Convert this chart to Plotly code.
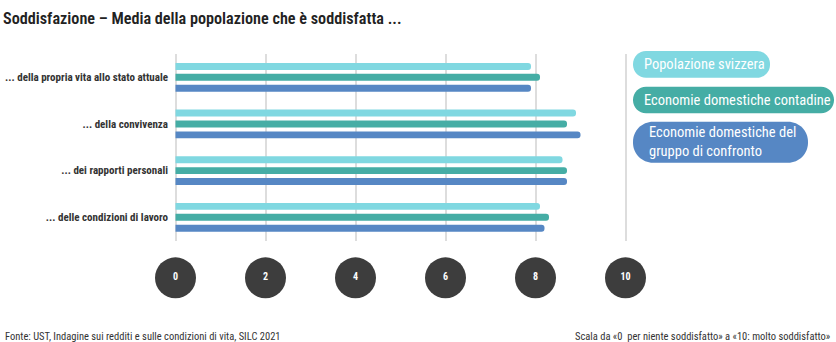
import plotly.graph_objects as go

# ---------------- data ----------------
categories = [
    "... della propria vita allo stato attuale",
    "... della convivenza",
    "... dei rapporti personali",
    "... delle condizioni di lavoro",
]
series_names = [
    "Popolazione svizzera",
    "Economie domestiche contadine",
    "Economie domestiche del<br>gruppo di confronto",
]
val_svizzera = [7.9, 8.9, 8.6, 8.1]
val_contadine = [8.1, 8.7, 8.7, 8.3]
val_confronto = [7.9, 9.0, 8.7, 8.2]
tick_values = [0, 2, 4, 6, 8, 10]
tick_labels = ["0", "2", "4", "6", "8", "10"]

title_text = "Soddisfazione – Media della popolazione che è soddisfatta ..."
source_text = "Fonte: UST, Indagine sui redditi e sulle condizioni di vita, SILC 2021"
scale_text = "Scala da «0  per niente soddisfatto» a «10: molto soddisfatto»"

# ---------------- style ----------------
colors = ["#80d8e1", "#45ada5", "#5687c4"]
FONT = "Liberation Sans Narrow, Roboto Condensed, Roboto, sans-serif"
W, H = 836, 342
L, R, T, B = 171, 206, 54, 42
PW = W - L - R
PH = H - T - B


def px2paper(px, py):
    return (px - L) / PW, (H - B - py) / PH


def pill_path(x0, y0, x1, y1, r):
    k = 0.5523 * r

    def p(x, y):
        a, b = px2paper(x, y)
        return f"{a:.5f},{b:.5f}"

    d = f"M {p(x0 + r, y0)} L {p(x1 - r, y0)} "
    d += f"C {p(x1 - r + k, y0)} {p(x1, y0 + r - k)} {p(x1, y0 + r)} "
    d += f"L {p(x1, y1 - r)} "
    d += f"C {p(x1, y1 - r + k)} {p(x1 - r + k, y1)} {p(x1 - r, y1)} "
    d += f"L {p(x0 + r, y1)} "
    d += f"C {p(x0 + r - k, y1)} {p(x0, y1 - r + k)} {p(x0, y1 - r)} "
    d += f"L {p(x0, y0 + r)} "
    d += f"C {p(x0, y0 + r - k)} {p(x0 + r - k, y0)} {p(x0 + r, y0)} Z"
    return d


fig = go.Figure()
for name, vals, col in zip(series_names, [val_svizzera, val_contadine, val_confronto], colors):
    fig.add_trace(go.Bar(
        x=vals, y=categories, orientation="h", name=name,
        marker=dict(color=col, cornerradius="50%", line=dict(width=0)),
        xaxis="x", yaxis="y", showlegend=False, hoverinfo="x+y",
    ))

fig.add_trace(go.Scatter(
    x=tick_values, y=[0] * len(tick_values), text=tick_labels,
    mode="markers+text", textposition="middle center",
    marker=dict(size=41, color="#3d3d3d", line=dict(width=0)),
    textfont=dict(color="white", size=10, family=FONT, weight="bold"),
    xaxis="x2", yaxis="y2", showlegend=False, hoverinfo="skip", cliponaxis=False,
))

shapes = []
annotations = []
legend_boxes = [
    (633, 51, 770, 77.7, 13, 641.5),
    (633, 86.7, 834, 113.3, 13, 641.5),
    (633, 121.7, 808, 162.7, 20, 647),
]
for (x0, y0, x1, y1, r, tx), name, col in zip(legend_boxes, series_names, colors):
    shapes.append(dict(type="path", xref="paper", yref="paper", path=pill_path(x0, y0, x1, y1, r),
                       fillcolor=col, line=dict(width=0), layer="above"))
    ax, ay = px2paper(tx, (y0 + y1) / 2)
    annotations.append(dict(xref="paper", yref="paper", x=ax, y=ay, xanchor="left", yanchor="middle",
                            text=name, showarrow=False, align="left",
                            font=dict(family=FONT, size=14.5, color="white")))

sx, sy = px2paper(3, 336)
annotations.append(dict(xref="paper", yref="paper", x=sx, y=sy, xanchor="left", yanchor="middle",
                        text=source_text, showarrow=False,
                        font=dict(family=FONT, size=10.5, color="#333333")))
ex, ey = px2paper(833, 336)
annotations.append(dict(xref="paper", yref="paper", x=ex, y=ey, xanchor="right", yanchor="middle",
                        text=scale_text, showarrow=False,
                        font=dict(family=FONT, size=10.5, color="#333333")))

fig.update_layout(
    width=W, height=H,
    margin=dict(l=L, r=R, t=T, b=B, autoexpand=False),
    paper_bgcolor="white", plot_bgcolor="white",
    barmode="group", bargap=0.298, bargroupgap=0.364,
    title=dict(text=title_text, x=3 / W, xanchor="left", xref="container",
               y=1 - 18 / H, yanchor="middle", yref="container",
               font=dict(family=FONT, size=16.2, color="#222222", weight=600)),
    xaxis=dict(range=[-0.1, 10.1], tick0=0, dtick=2, showgrid=True, gridcolor="#dddddd", gridwidth=1.5,
               showticklabels=False, zeroline=False, showline=False, ticks="", anchor="y",
               domain=[0, 1], fixedrange=True),
    xaxis2=dict(range=[-0.1, 10.1], matches="x", showgrid=False, showticklabels=False, zeroline=False,
                showline=False, ticks="", anchor="y2", domain=[0, 1]),
    yaxis=dict(type="category", categoryorder="array", categoryarray=categories, range=[3.5, -0.5],
               domain=[0.2415, 1], showgrid=False, zeroline=False, showline=False, ticks="",
               tickfont=dict(family=FONT, size=11, color="#333333", weight="bold"),
               ticklabelstandoff=2, anchor="x"),
    yaxis2=dict(range=[-1, 1], domain=[0, 0.18], showgrid=False, zeroline=False, showline=False,
                showticklabels=False, ticks="", anchor="x2"),
    shapes=shapes, annotations=annotations,
)

fig.write_html("out.html")
